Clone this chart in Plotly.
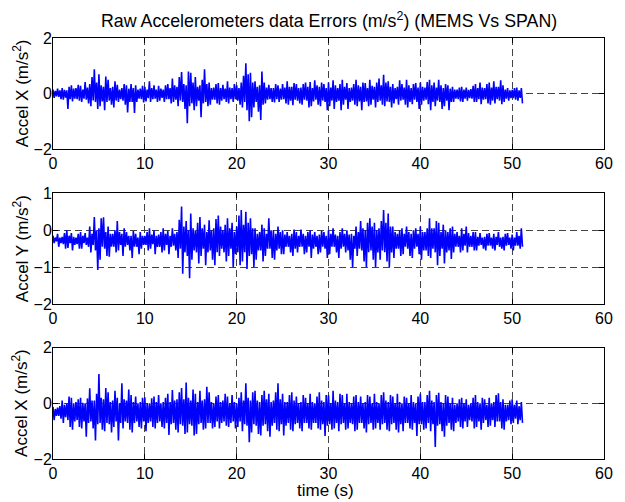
import plotly.graph_objects as go

# Upper and lower spike of each trace in 0.25 s steps (t = 0, 0.25, ..., 51.0 s)
AX_HI = [0.15, 0.1, 0.18, 0.12, 0.2, 0.14, 0.12, 0.25, 0.3, 0.18, 0.2, 0.32, 0.28, 0.15, 0.42, 0.22,
         0.35, 0.6, 0.88, 0.4, 0.7, 0.3, 0.25, 0.62, 0.5, 0.2, 0.25, 0.45, 0.32, 0.15, 0.2, 0.35,
         0.3, 0.18, 0.35, 0.2, 0.3, 0.15, 0.18, 0.28, 0.25, 0.15, 0.45, 0.2, 0.3, 0.15, 0.28, 0.18,
         0.15, 0.3, 0.35, 0.2, 0.55, 0.3, 0.25, 0.6, 0.78, 0.35, 0.3, 0.8, 0.75, 0.4, 0.6, 0.25,
         0.3, 0.5, 0.88, 0.35, 0.4, 0.2, 0.22, 0.35, 0.38, 0.2, 0.32, 0.18, 0.45, 0.22, 0.2, 0.35,
         0.3, 0.2, 0.4, 0.65, 1.1, 0.7, 0.75, 0.4, 0.45, 0.25, 0.3, 0.8, 0.4, 0.22, 0.32, 0.2,
         0.2, 0.35, 0.3, 0.18, 0.35, 0.22, 0.45, 0.25, 0.25, 0.38, 0.35, 0.2, 0.22, 0.35, 0.4, 0.25,
         0.42, 0.2, 0.48, 0.3, 0.25, 0.4, 0.35, 0.2, 0.4, 0.22, 0.48, 0.3, 0.2, 0.35, 0.5, 0.25,
         0.38, 0.2, 0.22, 0.35, 0.5, 0.3, 0.25, 0.4, 0.38, 0.2, 0.5, 0.28, 0.25, 0.4, 0.55, 0.3,
         0.68, 0.4, 0.45, 0.25, 0.35, 0.2, 0.25, 0.48, 0.35, 0.22, 0.5, 0.3, 0.2, 0.35, 0.38, 0.22,
         0.4, 0.25, 0.22, 0.42, 0.5, 0.3, 0.4, 0.22, 0.5, 0.3, 0.2, 0.35, 0.3, 0.18, 0.25, 0.15,
         0.15, 0.22, 0.25, 0.15, 0.22, 0.14, 0.16, 0.28, 0.35, 0.2, 0.4, 0.22, 0.2, 0.35, 0.4, 0.22,
         0.45, 0.25, 0.25, 0.48, 0.3, 0.15, 0.2, 0.12, 0.14, 0.2, 0.22, 0.12, 0.2]
AX_LO = [-0.15, -0.1, -0.12, -0.2, -0.22, -0.14, -0.55, -0.2, -0.28, -0.18, -0.2, -0.25, -0.3, -0.18, -0.22, -0.35,
         -0.45, -0.25, -0.3, -0.55, -0.45, -0.28, -0.6, -0.3, -0.25, -0.4, -0.5, -0.25, -0.3, -0.2, -0.25, -0.4,
         -0.68, -0.3, -0.3, -0.7, -0.3, -0.18, -0.2, -0.32, -0.28, -0.16, -0.3, -0.2, -0.18, -0.3, -0.25, -0.15,
         -0.3, -0.2, -0.2, -0.35, -0.3, -0.22, -0.45, -0.25, -0.3, -0.55, -1.07, -0.45, -0.35, -0.6, -0.45, -0.25,
         -0.85, -0.35, -0.3, -0.45, -0.4, -0.22, -0.22, -0.35, -0.4, -0.25, -0.2, -0.3, -0.35, -0.2, -0.3, -0.2,
         -0.25, -0.4, -0.5, -0.3, -0.6, -1.0, -0.85, -0.5, -0.3, -0.65, -0.95, -0.4, -0.35, -0.22, -0.2, -0.3,
         -0.32, -0.2, -0.3, -0.22, -0.2, -0.35, -0.4, -0.25, -0.42, -0.22, -0.25, -0.35, -0.4, -0.22, -0.25, -0.5,
         -0.45, -0.28, -0.22, -0.4, -0.45, -0.25, -0.3, -0.6, -0.45, -0.25, -0.55, -0.3, -0.25, -0.6, -0.4, -0.22,
         -0.55, -0.3, -0.25, -0.4, -0.45, -0.28, -0.6, -0.3, -0.28, -0.45, -0.4, -0.22, -0.5, -0.3, -0.25, -0.4,
         -0.45, -0.28, -0.3, -0.5, -0.35, -0.2, -0.4, -0.25, -0.22, -0.4, -0.5, -0.3, -0.38, -0.22, -0.3, -0.55,
         -0.4, -0.25, -0.22, -0.38, -0.6, -0.3, -0.45, -0.25, -0.3, -0.55, -0.45, -0.25, -0.6, -0.3, -0.3, -0.18,
         -0.2, -0.28, -0.3, -0.18, -0.25, -0.16, -0.18, -0.3, -0.3, -0.2, -0.38, -0.22, -0.2, -0.35, -0.4, -0.25,
         -0.35, -0.2, -0.25, -0.38, -0.3, -0.18, -0.25, -0.16, -0.16, -0.22, -0.25, -0.15, -0.35]

AY_HI = [-0.15, -0.2, -0.1, -0.2, -0.18, -0.08, 0.0, -0.15, -0.08, -0.18, -0.2, -0.1, -0.05, -0.15, -0.08, -0.2,
         0.1, -0.1, 0.36, 0.0, 0.05, 0.32, 0.35, -0.05, 0.1, -0.1, -0.1, 0.0, 0.25, -0.05, -0.1, 0.05,
         -0.05, -0.15, -0.15, -0.02, -0.1, -0.2, -0.05, -0.15, -0.15, -0.05, 0.05, -0.12, 0.0, -0.15, -0.12, -0.05,
         0.05, -0.1, -0.02, -0.15, 0.05, -0.1, -0.05, 0.28, 0.64, 0.1, 0.25, 0.0, 0.45, 0.05, 0.0, 0.2,
         0.36, 0.05, 0.15, -0.05, 0.27, 0.0, 0.05, 0.3, 0.4, 0.1, 0.0, 0.15, 0.32, 0.05, 0.2, -0.05,
         0.1, 0.4, 0.55, 0.15, 0.5, 0.2, 0.32, 0.05, 0.05, -0.1, -0.05, 0.15, 0.05, -0.1, 0.32, 0.0,
         0.0, -0.1, 0.1, -0.05, 0.0, -0.12, -0.05, -0.15, -0.1, 0.02, -0.05, -0.15, 0.02, -0.1, -0.15, -0.05,
         0.0, -0.12, -0.05, -0.15, -0.12, -0.02, -0.05, -0.15, 0.0, -0.1, 0.05, -0.12, -0.15, -0.05, 0.05, -0.1,
         0.0, -0.12, -0.1, -0.15, 0.1, -0.05, 0.25, 0.05, 0.0, 0.2, 0.32, 0.1, 0.2, 0.0, 0.05, 0.25,
         0.55, 0.2, 0.45, 0.1, 0.1, -0.05, -0.1, 0.0, 0.05, -0.1, 0.1, -0.05, -0.1, 0.0, 0.05, -0.1,
         0.1, -0.05, -0.05, 0.05, 0.32, 0.05, 0.05, 0.25, 0.2, -0.05, 0.15, 0.0, -0.05, 0.05, 0.1, -0.1,
         -0.05, -0.15, 0.05, -0.1, 0.1, -0.08, -0.15, -0.05, -0.05, -0.18, -0.08, -0.2, -0.18, -0.1, -0.08, -0.2,
         -0.1, -0.18, -0.05, -0.2, -0.18, -0.1, -0.08, -0.2, -0.12, -0.2, -0.05, -0.15, 0.05]
AY_LO = [-0.35, -0.3, -0.45, -0.35, -0.38, -0.5, -0.48, -0.35, -0.55, -0.4, -0.38, -0.5, -0.5, -0.35, -0.4, -0.45,
         -0.6, -0.4, -0.55, -1.08, -0.8, -0.45, -0.5, -0.7, -0.72, -0.45, -0.45, -0.6, -0.55, -0.4, -0.7, -0.45,
         -0.4, -0.55, -0.75, -0.45, -0.45, -0.65, -0.5, -0.4, -0.4, -0.55, -0.5, -0.38, -0.65, -0.45, -0.45, -0.6,
         -0.55, -0.4, -0.65, -0.45, -0.42, -0.55, -0.75, -0.5, -1.18, -0.6, -0.7, -1.3, -0.8, -0.55, -0.6, -0.9,
         -0.7, -0.5, -0.95, -0.6, -0.55, -0.8, -0.95, -0.6, -0.7, -0.5, -0.6, -0.85, -0.7, -0.5, -1.0, -0.65,
         -0.6, -0.95, -0.85, -0.6, -1.05, -0.7, -0.65, -1.0, -0.8, -0.55, -0.55, -0.85, -0.7, -0.5, -0.5, -0.75,
         -0.8, -0.55, -0.5, -0.65, -0.65, -0.45, -0.45, -0.6, -0.7, -0.5, -0.6, -0.45, -0.45, -0.65, -0.6, -0.45,
         -0.75, -0.5, -0.45, -0.65, -0.6, -0.45, -0.5, -0.75, -0.65, -0.45, -0.45, -0.6, -0.75, -0.5, -0.45, -0.6,
         -0.55, -0.8, -1.0, -0.5, -0.7, -0.5, -0.55, -0.85, -1.0, -0.6, -0.55, -0.8, -1.0, -0.6, -0.8, -0.55,
         -0.6, -0.85, -1.0, -0.6, -0.75, -0.5, -0.5, -0.7, -0.65, -0.45, -0.5, -0.7, -0.75, -0.5, -0.45, -0.65,
         -0.8, -0.55, -0.55, -0.7, -0.75, -0.5, -0.6, -0.95, -0.7, -0.5, -0.9, -0.6, -0.55, -0.78, -0.6, -0.45,
         -0.45, -0.6, -0.55, -0.42, -0.6, -0.45, -0.45, -0.55, -0.55, -0.42, -0.4, -0.5, -0.55, -0.42, -0.42, -0.5,
         -0.55, -0.4, -0.45, -0.5, -0.55, -0.42, -0.4, -0.5, -0.55, -0.42, -0.42, -0.5, -0.45]

AZ_HI = [-0.12, -0.2, -0.15, -0.1, 0.1, -0.05, 0.0, 0.25, 0.2, 0.0, 0.05, 0.15, 0.2, 0.02, 0.0, 0.18,
         0.54, 0.1, 0.1, 0.35, 1.06, 0.2, 0.15, 0.55, 0.4, 0.05, 0.1, 0.45, 0.2, 0.0, 0.72, 0.15,
         0.1, 0.5, 0.3, 0.05, 0.25, 0.0, 0.05, 0.2, 0.22, 0.0, 0.0, 0.18, 0.25, 0.05, 0.3, 0.0,
         0.05, 0.2, 0.35, 0.05, 0.48, 0.1, 0.15, 0.4, 0.55, 0.15, 0.75, 0.2, 0.1, 0.5, 0.35, 0.05,
         0.45, 0.1, 0.15, 0.6, 0.4, 0.05, 0.0, 0.25, 0.3, 0.05, 0.1, 0.35, 0.25, 0.0, 0.3, 0.05,
         0.0, 0.2, 0.4, 0.1, 0.72, 0.2, 0.1, 0.4, 0.45, 0.1, 0.05, 0.3, 0.45, 0.15, 0.35, 0.05,
         0.1, 0.4, 0.72, 0.15, 0.35, 0.05, 0.05, 0.3, 0.4, 0.1, 0.25, 0.0, 0.05, 0.3, 0.2, 0.0,
         0.35, 0.05, 0.0, 0.25, 0.4, 0.1, 0.05, 0.3, 0.3, 0.0, 0.45, 0.1, 0.05, 0.35, 0.3, 0.0,
         0.35, 0.05, 0.0, 0.25, 0.3, 0.05, 0.25, 0.0, 0.05, 0.3, 0.25, 0.0, 0.35, 0.05, 0.0, 0.3,
         0.4, 0.1, 0.05, 0.3, 0.25, 0.0, 0.35, 0.05, 0.0, 0.25, 0.2, 0.0, 0.3, 0.05, 0.0, 0.25,
         0.35, 0.05, 0.05, 0.3, 0.45, 0.1, 0.05, 0.3, 0.38, 0.05, 0.0, 0.3, 0.25, 0.0, 0.2, -0.05,
         0.0, 0.15, 0.2, 0.0, 0.15, -0.05, 0.0, 0.2, 0.3, 0.05, 0.0, 0.2, 0.15, -0.05, 0.2, 0.0,
         0.05, 0.3, 0.36, 0.05, 0.15, -0.05, -0.05, 0.1, 0.15, -0.05, 0.1, -0.1, 0.05]
AZ_LO = [-0.6, -0.45, -0.45, -0.55, -0.7, -0.5, -0.6, -0.85, -0.95, -0.65, -0.6, -0.85, -0.9, -0.65, -1.2, -0.7,
         -0.65, -0.9, -1.33, -0.75, -0.7, -0.95, -1.0, -0.7, -0.75, -1.05, -0.85, -0.65, -1.33, -0.7, -0.9, -0.65,
         -0.7, -0.95, -1.05, -0.7, -0.65, -0.85, -0.9, -0.65, -1.0, -0.7, -0.65, -0.85, -0.9, -0.7, -0.65, -0.85,
         -0.9, -0.7, -1.14, -0.75, -0.7, -0.95, -1.05, -0.75, -0.8, -1.1, -1.05, -0.75, -0.8, -1.15, -1.1, -0.75,
         -0.7, -0.95, -0.9, -0.7, -0.7, -0.9, -0.85, -0.65, -0.9, -0.7, -0.65, -0.8, -0.85, -0.7, -0.65, -0.9,
         -0.85, -0.65, -1.0, -0.75, -0.8, -1.4, -1.05, -0.75, -0.8, -1.1, -1.15, -0.8, -0.75, -1.0, -1.2, -0.8,
         -0.7, -0.95, -1.0, -0.75, -1.15, -0.8, -0.7, -0.95, -1.0, -0.75, -0.7, -0.9, -1.0, -0.7, -0.7, -0.9,
         -0.95, -0.7, -0.7, -0.9, -0.95, -0.75, -1.17, -0.8, -0.75, -0.95, -0.9, -0.7, -1.0, -0.75, -0.7, -0.95,
         -0.9, -0.7, -0.75, -1.0, -0.95, -0.7, -0.7, -0.9, -1.05, -0.75, -0.7, -0.95, -0.9, -0.7, -0.95, -0.75,
         -0.7, -0.95, -1.0, -0.75, -0.7, -0.95, -1.05, -0.75, -1.0, -0.7, -0.7, -0.9, -0.95, -0.7, -1.17, -0.75,
         -0.75, -0.95, -0.9, -0.7, -1.0, -0.75, -1.57, -0.8, -0.75, -1.0, -1.2, -0.8, -0.7, -0.95, -1.0, -0.7,
         -0.65, -0.85, -0.9, -0.65, -0.85, -0.6, -0.65, -0.9, -0.85, -0.65, -0.95, -0.7, -0.6, -0.85, -0.8, -0.6,
         -0.85, -0.65, -0.65, -0.9, -0.95, -0.65, -0.6, -0.75, -0.7, -0.55, -0.75, -0.6, -0.7]

STEP = 0.25  # seconds between successive spike pairs
X_TICKS = [0, 10, 20, 30, 40, 50, 60]
Y_TICKS = [[-2, 0, 2], [-2, -1, 0, 1], [-2, 0, 2]]
Y_RANGES = [[-2, 2], [-2, 1], [-2, 2]]
Y_LABELS = ["Accel X (m/s<sup>2</sup>)", "Accel Y (m/s<sup>2</sup>)", "Accel X (m/s<sup>2</sup>)"]
TITLE = "Raw Accelerometers data Errors (m/s<sup>2</sup>) (MEMS Vs SPAN)"
X_LABEL = "time (s)"

for arr in (AX_HI, AX_LO, AY_HI, AY_LO, AZ_HI, AZ_LO):
    assert len(arr) == 205, len(arr)


def trace_points(hi, lo):
    xs, ys = [], []
    for i, (h, l) in enumerate(zip(hi, lo)):
        t = i * STEP
        xs += [t, t + STEP / 2]
        ys += [h, l]
    return xs, ys


W, H = 625, 502
ML, MR, MT, MB = 53, 12, 38, 43
PH = H - MT - MB
tops = [38.3, 193.3, 347.8]
bots = [149.0, 304.0, 459.0]


def py(p):
    return (H - MB - p) / PH


FONT = "Liberation Sans, Arial, Helvetica, sans-serif"
fig = go.Figure()
series = [(AX_HI, AX_LO), (AY_HI, AY_LO), (AZ_HI, AZ_LO)]
for k, s in enumerate(series):
    xs, ys = trace_points(*s)
    fig.add_trace(go.Scatter(x=xs, y=ys, mode="lines",
                             line=dict(color="#0000ff", width=1.6),
                             xaxis="x" if k == 0 else f"x{k+1}",
                             yaxis="y" if k == 0 else f"y{k+1}",
                             showlegend=False, hoverinfo="skip"))

layout = dict(width=W, height=H, margin=dict(l=ML, r=MR, t=MT, b=MB),
              paper_bgcolor="white", plot_bgcolor="white",
              font=dict(family=FONT, size=16, color="black"), showlegend=False)

for k in range(3):
    xn = "xaxis" if k == 0 else f"xaxis{k+1}"
    yn = "yaxis" if k == 0 else f"yaxis{k+1}"
    ya = "y" if k == 0 else f"y{k+1}"
    xa = "x" if k == 0 else f"x{k+1}"
    layout[xn] = dict(domain=[0, 1], anchor=ya, range=[0, 60], tickvals=X_TICKS,
                      ticks="inside", ticklen=5, tickcolor="black", showline=True,
                      linecolor="black", linewidth=1, mirror="ticks",
                      showgrid=True, gridcolor="#444", gridwidth=1, griddash="7px,4px",
                      zeroline=False, tickfont=dict(size=16))
    layout[yn] = dict(domain=[py(bots[k]), py(tops[k])], anchor=xa, range=Y_RANGES[k],
                      tickvals=Y_TICKS[k], ticks="inside", ticklen=5, tickcolor="black",
                      showline=True, linecolor="black", linewidth=1, mirror="ticks",
                      showgrid=True, gridcolor="#444", gridwidth=1, griddash="7px,4px",
                      zeroline=False, tickfont=dict(size=16), ticklabelstandoff=-3)

ann = [dict(text=TITLE, x=(333 - ML) / (W - ML - MR), y=py(20), xref="paper", yref="paper",
            showarrow=False, xanchor="center", yanchor="middle", font=dict(size=17.8)),
       dict(text=X_LABEL, x=(330 - ML) / (W - ML - MR), y=py(490), xref="paper", yref="paper",
            showarrow=False, xanchor="center", yanchor="middle", font=dict(size=17))]
for k in range(3):
    ann.append(dict(text=Y_LABELS[k], x=(20 - ML) / (W - ML - MR), y=py((tops[k] + bots[k]) / 2),
                    xref="paper", yref="paper", showarrow=False, textangle=-90,
                    xanchor="center", yanchor="middle", font=dict(size=17)))
layout["annotations"] = ann
fig.update_layout(**layout)
fig.write_html("out.html")
